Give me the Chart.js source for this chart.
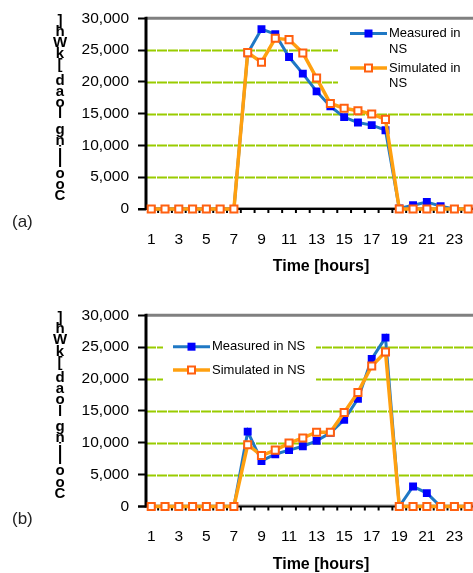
<!DOCTYPE html>
<html><head><meta charset="utf-8">
<script src="https://cdn.jsdelivr.net/npm/chart.js@4.4.0/dist/chart.umd.min.js"></script>
<style>
html,body{margin:0;padding:0;background:#fff;overflow:hidden;width:473px;height:573px}
canvas{position:absolute;left:0}
#ca{top:0}
#cb{top:297px}
</style></head><body>
<canvas id="ca" width="473" height="290"></canvas>
<canvas id="cb" width="473" height="276"></canvas>
<script>
// ---- data ----
const hours = [1,2,3,4,5,6,7,8,9,10,11,12,13,14,15,16,17,18,19,20,21,22,23,24];
const measuredA  = [0,0,0,0,0,0,0,24500,28300,27500,23900,21300,18500,16150,14450,13600,13200,12400,100,600,1100,450,0,0];
const simulatedA = [0,0,0,0,0,0,0,24600,23100,26850,26650,24550,20600,16600,15850,15450,14950,14100,0,0,0,0,0,0];
const measuredB  = [0,0,0,0,0,0,0,11750,7150,8200,8850,9450,10300,11550,13600,16900,23150,26500,0,3150,2100,0,0,0];
const simulatedB = [0,0,0,0,0,0,0,9700,8000,8850,9950,10750,11650,11650,14750,17900,22050,24250,0,0,0,0,0,0];
const xTickValues = [1,3,5,7,9,11,13,15,17,19,21,23];
const yTickValues = [0,5000,10000,15000,20000,25000,30000];
const yTickLabels = ['0','5,000','10,000','15,000','20,000','25,000','30,000'];
const seriesNames = ['Measured in NS','Simulated in NS'];
const xTitle = 'Time [hours]';
const yTitle = 'Cooling load [kWh]';
const panelNames = ['(a)','(b)'];

const FONT = '"Liberation Sans", Arial, Helvetica, sans-serif';
const C_MEAS_LINE = '#1f78c4', C_MEAS_PT = '#0000ff';
const C_SIM_LINE = '#ffa010', C_SIM_PT = '#ff6010';

function drawMarker(ctx, x, y, filled) {
  if (filled) {
    ctx.fillStyle = C_MEAS_PT; ctx.fillRect(x-4, y-4, 8, 8);
  } else {
    ctx.fillStyle = '#fff'; ctx.fillRect(x-3.5, y-3.5, 7, 7);
    ctx.strokeStyle = C_SIM_PT; ctx.lineWidth = 2; ctx.strokeRect(x-3.5, y-3.5, 7, 7);
  }
}

function makeChart(id, meas, sim, H, T, leg, panel) {
  const framePlugin = {
    id: 'frame' + id,
    beforeDatasetsDraw(chart) {
      const {ctx, chartArea: a, scales: {x, y}} = chart;
      ctx.save();
      // green grid lines
      ctx.strokeStyle = '#99cc00'; ctx.lineWidth = 2; ctx.setLineDash([10, 1]);
      yTickValues.slice(1, -1).forEach(v => {
        const py = Math.round(y.getPixelForValue(v)) + 0.5;
        ctx.beginPath(); ctx.moveTo(a.left, py); ctx.lineTo(a.right, py); ctx.stroke();
      });
      ctx.setLineDash([]);
      // top gray border
      const ty = y.getPixelForValue(yTickValues[yTickValues.length-1]);
      ctx.strokeStyle = '#808080'; ctx.lineWidth = 3;
      ctx.beginPath(); ctx.moveTo(a.left, ty); ctx.lineTo(a.right, ty); ctx.stroke();
      // bottom axis
      const by = y.getPixelForValue(0);
      ctx.strokeStyle = '#999'; ctx.lineWidth = 1;
      ctx.beginPath(); ctx.moveTo(a.left, by - 1.5); ctx.lineTo(a.right, by - 1.5); ctx.stroke();
      ctx.strokeStyle = '#000'; ctx.lineWidth = 2;
      ctx.beginPath(); ctx.moveTo(a.left - 8, by); ctx.lineTo(a.right, by); ctx.stroke();
      hours.forEach(h => {
        const px = x.getPixelForValue(h + 0.5);
        if (px < a.right) { ctx.beginPath(); ctx.moveTo(px, by); ctx.lineTo(px, by + 4); ctx.stroke(); }
      });
      // left axis
      ctx.lineWidth = 3;
      ctx.beginPath(); ctx.moveTo(a.left, ty - 1.5); ctx.lineTo(a.left, by + 1); ctx.stroke();
      ctx.restore();
    },
    afterDatasetsDraw(chart) {
      const {ctx, chartArea: a} = chart;
      ctx.save();
      // legend
      ctx.fillStyle = '#fff';
      ctx.fillRect(leg.box[0], leg.box[1], leg.box[2], leg.box[3]);
      const items = [[C_MEAS_LINE, true, leg.lines[0]], [C_SIM_LINE, false, leg.lines[1]]];
      items.forEach((it, i) => {
        const ly = leg.ys[i];
        ctx.strokeStyle = it[0]; ctx.lineWidth = i ? 3.5 : 3;
        ctx.beginPath(); ctx.moveTo(leg.x0, ly); ctx.lineTo(leg.x1, ly); ctx.stroke();
        drawMarker(ctx, (leg.x0 + leg.x1) / 2, ly, it[1]);
        ctx.fillStyle = '#000'; ctx.font = '13px ' + FONT;
        ctx.textAlign = 'left'; ctx.textBaseline = 'middle';
        it[2].forEach((t, k) => ctx.fillText(t, leg.x1 + 2, ly + k * 15.5));
      });
      // panel label
      ctx.font = '17px ' + FONT; ctx.fillStyle = '#222'; ctx.textAlign = 'left'; ctx.textBaseline = 'middle';
      ctx.fillText(panel, 12, a.bottom + 13);
      // x title
      ctx.font = 'bold 16px ' + FONT; ctx.fillStyle = '#000'; ctx.textAlign = 'center';
      ctx.fillText(xTitle, 321, a.bottom + 58);
      // y title, stacked glyphs from bottom to top
      ctx.font = 'bold 15px ' + FONT; ctx.textBaseline = 'middle';
      const chars = yTitle.split('');
      const step = 11.1;
      let cy = a.bottom - 13;
      chars.forEach(ch => {
        if (ch === ' ') { cy -= step * 0.4; return; }
        ctx.fillText(ch, 60, cy); cy -= step;
      });
      ctx.restore();
    }
  };

  return new Chart(document.getElementById(id), {
    type: 'line',
    data: {
      datasets: [
        { label: seriesNames[0], data: hours.map((h, i) => ({x: h, y: meas[i]})),
          borderColor: C_MEAS_LINE, borderWidth: 3, pointStyle: 'rect', pointRadius: 5.6,
          pointBackgroundColor: C_MEAS_PT, pointBorderColor: C_MEAS_PT, pointBorderWidth: 0,
          tension: 0, order: 1, clip: 8 },
        { label: seriesNames[1], data: hours.map((h, i) => ({x: h, y: sim[i]})),
          borderColor: C_SIM_LINE, borderWidth: 3.5, pointStyle: 'rect', pointRadius: 5,
          pointBackgroundColor: '#fff', pointBorderColor: C_SIM_PT, pointBorderWidth: 2,
          tension: 0, order: 0, clip: 8 }
      ]
    },
    options: {
      responsive: false, animation: false, devicePixelRatio: 1,
      layout: { autoPadding: false, padding: { top: T, left: 0, right: 0, bottom: 0 } },
      plugins: { legend: { display: false }, tooltip: { enabled: false } },
      scales: {
        x: {
          type: 'linear', min: 0.62, max: 24.35,
          afterBuildTicks(s) { s.ticks = xTickValues.map(v => ({value: v})); },
          afterFit(s) { s.height = H - T - 195; s.paddingLeft = 0; s.paddingRight = 0; },
          grid: { display: false, drawTicks: false }, border: { display: false },
          ticks: { color: '#000', font: { family: FONT, size: 15.5 }, padding: 21, maxRotation: 0, autoSkip: false,
                   callback: v => String(v) }
        },
        y: {
          min: 0, max: 30000,
          afterBuildTicks(s) { s.ticks = yTickValues.map(v => ({value: v})); },
          afterFit(s) { s.width = 146; },
          grid: { display: true, drawOnChartArea: false, drawTicks: true, tickLength: 8, tickColor: '#000', tickWidth: 2 },
          border: { display: false },
          ticks: { color: '#000', font: { family: FONT, size: 15.5 }, padding: 9,
                   callback: (v) => yTickLabels[yTickValues.indexOf(v)] }
        }
      }
    },
    plugins: [framePlugin]
  });
}

makeChart('ca', measuredA, simulatedA, 290, 14, {
  box: [338, 22, 135, 73], x0: 350, x1: 387, ys: [33.5, 68],
  lines: [['Measured in', 'NS'], ['Simulated in', 'NS']]
}, panelNames[0]);

makeChart('cb', measuredB, simulatedB, 276, 14.5, {
  box: [163, 38, 153, 55], x0: 173, x1: 210, ys: [49.7, 73],
  lines: [[seriesNames[0]], [seriesNames[1]]]
}, panelNames[1]);
</script>
</body></html>
